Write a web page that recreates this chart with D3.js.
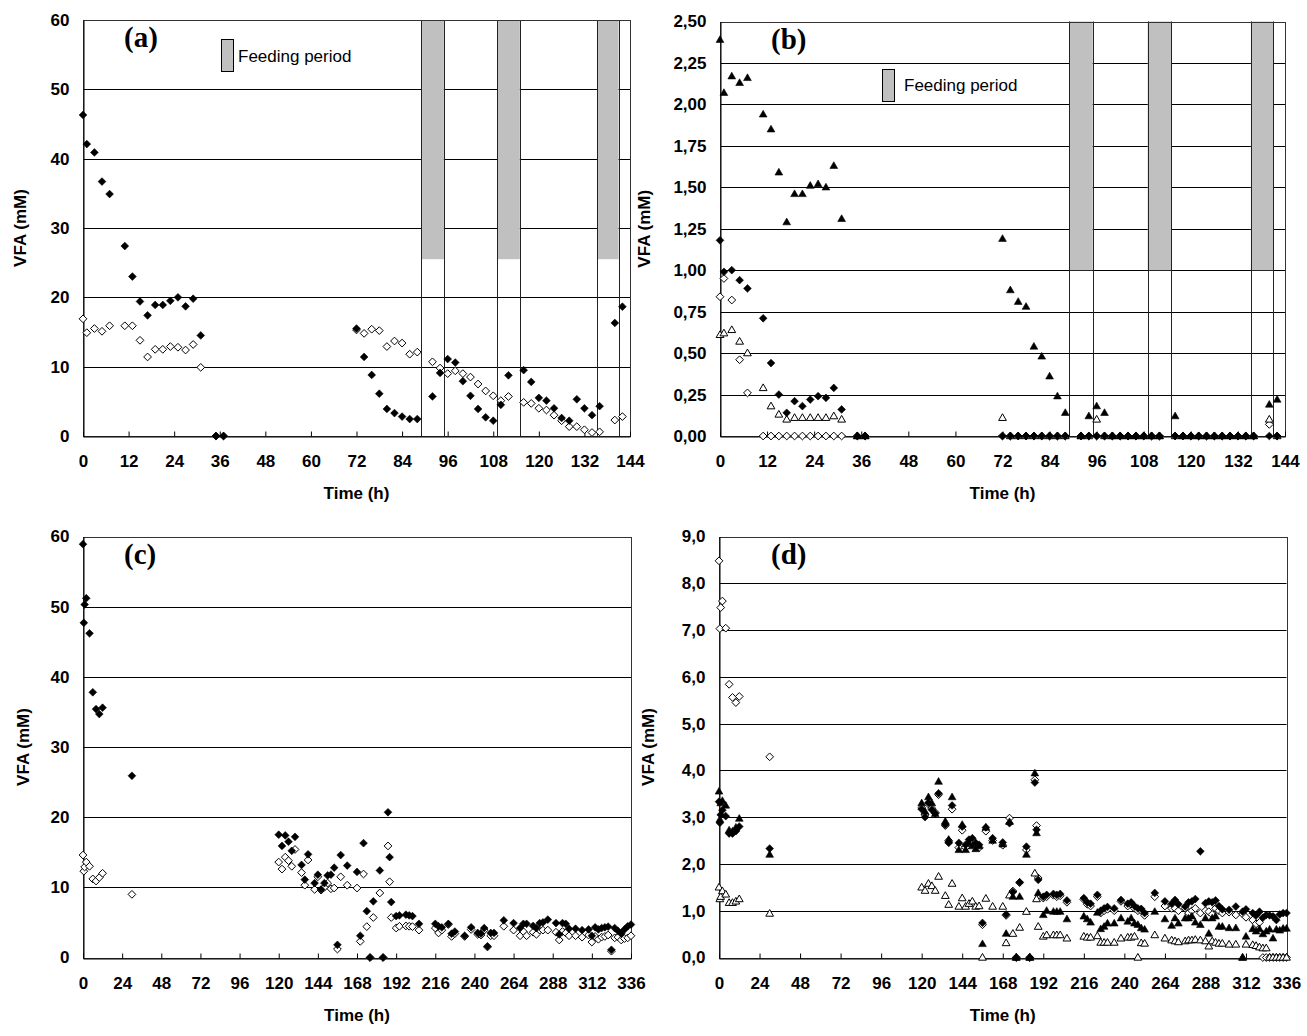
<!DOCTYPE html>
<html>
<head>
<meta charset="utf-8">
<script src="https://cdn.jsdelivr.net/npm/d3@7"></script>
<style>
  body { margin: 0; background: #fff; }
  svg { display: block; }
</style>
</head>
<body>
<svg id="chart" width="1307" height="1036"></svg>
<script>
// ---------- Panel (a): batch phase + feeding, 0-144 h ----------
const aTime = [0,1,3,5,7,11,13,15,17,19,21,23,25,27,29,31,35,37,
  72,74,76,78,80,82,84,86,88,
  92,94,96,98,100,102,104,106,108,110,112,
  116,118,120,122,124,126,128,130,132,134,136,
  140,142];
const aFilled = [46.3,42.1,40.9,36.7,34.9,27.4,23.0,19.4,17.4,18.9,18.9,19.5,20.0,18.7,19.8,14.5,0,0,
  15.5,11.4,8.8,6.1,3.9,3.3,2.8,2.45,2.45,
  5.7,9.1,11.1,10.6,7.9,5.8,3.9,2.7,2.2,4.5,8.75,
  9.5,7.8,5.5,5.1,4.0,2.6,2.2,5.3,4.0,3.0,4.3,
  16.3,18.65];
const aOpen = [16.9,14.9,15.5,15.1,15.9,15.9,15.9,13.8,11.4,12.5,12.5,12.9,12.8,12.4,13.2,9.9,0,0,
  15.3,14.8,15.4,15.2,12.9,13.7,13.4,11.8,12.1,
  10.7,9.8,9.0,9.4,9.0,8.5,7.5,6.5,5.8,5.1,5.7,
  4.85,4.7,4.0,3.75,3.0,2.2,1.35,1.35,0.9,0.5,0.6,
  2.3,2.8];

// ---------- Panel (b): same sampling times as (a) ----------
const bTime = aTime;
const bFilledTri = [2.39,2.07,2.17,2.13,2.16,1.94,1.85,1.59,1.29,1.46,1.46,1.51,1.52,1.50,1.63,1.31,0,0,
  1.19,0.88,0.81,0.78,0.54,0.48,0.36,0.24,0.14,
  0,0.12,0.18,0.14,0,0,0,0,0,0,0,
  0.12,0,0,0,0,0,0,0,0,0,0,
  0.19,0.22];
const bFilledDia = [1.18,0.99,1.00,0.94,0.89,0.71,0.44,0.25,0.14,0.21,0.18,0.22,0.24,0.23,0.29,0.16,0,0,
  0,0,0,0,0,0,0,0,0,
  0,0,0,0,0,0,0,0,0,0,0,
  0,0,0,0,0,0,0,0,0,0,0,
  0,0];
const bOpenDia = [0.84,0.95,0.82,0.46,0.26,0,0,0,0,0,0,0,0,0,0,0,0,0,
  0,0,0,0,0,0,0,0,0,
  0,0,0,0,0,0,0,0,0,0,0,
  0,0,0,0,0,0,0,0,0,0,0,
  0.07,0];
const bOpenTri = [0.61,0.62,0.64,0.57,0.50,0.29,0.18,0.13,0.10,0.11,0.11,0.11,0.11,0.11,0.12,0.10,0,0,
  0.11,0,0,0,0,0,0,0,0,
  0,0,0.10,0,0,0,0,0,0,0,0,
  0,0,0,0,0,0,0,0,0,0,0,
  0.10,0];

// Feeding periods (h) shared by (a) and (b); shaded from the given level to the top
const feedStart = [89, 109, 135.3];
const feedEnd = [95, 115, 141];
const feedLevelA = 25.5;
const feedLevelB = 1.0;

// ---------- Panel (c): continuous run, 0-336 h ----------
const cTime = [0,0.5,1,2,4,6,8,10,12,30,
  120,122,124,126,128,130,134,136,138,142,144,146,148,150,152,154,156,158,162,168,170,172,174,176,178,182,184,187,188,189,
  192,194,198,200,202,206,216,218,220,224,226,228,234,238,242,244,246,248,250,252,
  258,264,268,270,272,276,278,280,282,285,290,292,294,296,298,302,306,310,312,314,
  316,318,320,322,324,326,328,330,332,334,336];
const cFilled = [58.9,47.7,50.3,51.2,46.2,37.8,35.4,34.7,35.6,25.9,
  17.5,15.9,17.4,16.5,15.2,17.2,13.2,11.1,14.7,10.6,11.8,9.7,10.6,11.7,11.8,12.8,1.8,14.6,13.1,12.2,3.1,16.3,6.6,0,8.0,12.4,0,20.7,14.3,7.9,
  5.9,6.0,6.1,6.0,5.9,4.8,4.8,4.45,4.3,4.8,3.4,3.7,3.1,4.3,3.5,3.4,4.2,1.6,3.5,3.5,
  5.3,4.9,4.2,4.8,4.8,4.5,4.2,4.9,5.0,5.4,4.9,3.3,4.9,4.8,4.1,4.1,3.9,4.0,3.1,4.3,
  4.0,4.2,4.3,4.4,1.1,4.2,3.8,3.4,4.0,4.45,4.7];
const cOpen = [14.6,12.3,12.9,13.6,13.0,11.2,10.9,11.4,12.0,9.0,
  13.6,12.6,14.3,13.8,13.0,15.4,12.1,10.3,13.9,9.7,11.5,9.6,10.0,10.6,9.8,9.9,1.2,11.5,10.3,9.9,2.3,11.9,4.4,0,5.7,9.2,0,15.9,10.8,5.7,
  4.2,4.45,4.5,4.45,4.4,3.9,4.2,3.5,3.9,4.7,3.0,3.4,3.0,4.0,3.3,3.2,3.9,1.5,3.1,3.1,
  4.45,3.9,3.1,3.7,3.1,3.6,3.3,3.9,3.9,3.9,3.6,2.5,3.7,3.5,3.1,3.1,2.9,3.2,2.2,3.0,
  2.6,2.9,3.0,3.2,0.9,2.8,2.9,2.5,2.7,2.8,3.1];

// ---------- Panel (d): continuous run, 0-336 h ----------
const dTime = [0,0.5,1,2,4,6,8,10,12,30,
  120,122,124,126,128,130,134,136,138,142,144,146,148,150,152,154,156,158,162,168,170,172,174,176,178,182,184,187,188,189,
  192,194,198,200,202,206,216,218,220,224,226,228,230,234,238,242,244,246,248,250,252,
  258,264,268,270,272,276,278,280,282,285,288,290,292,294,296,298,302,306,310,312,
  316,318,320,322,324,326,328,330,332,334,336];
const dFilledDia = [3.33,2.88,3.05,3.15,3.02,2.65,2.65,2.70,2.80,2.33,
  3.17,3.00,3.31,3.16,3.08,3.51,2.84,2.45,3.25,2.45,2.80,2.41,2.52,2.55,2.45,2.41,0.74,2.78,2.55,2.46,0.92,2.87,1.40,0,1.61,2.37,0,3.74,2.73,1.66,
  1.30,1.34,1.36,1.34,1.36,1.22,1.27,1.18,1.15,1.34,1.00,1.05,1.08,1.05,1.23,1.15,1.18,1.10,1.05,1.04,0.95,
  1.38,1.20,1.15,1.23,1.14,1.09,1.18,1.20,1.25,2.27,1.16,1.20,1.18,1.22,1.10,1.03,1.02,1.09,0.98,1.03,
  0.95,0.90,0.98,0.85,0.91,0.90,0.88,0.80,0.92,0.95,0.95];
const dOpenDia = [8.48,7.03,7.48,7.62,7.04,5.84,5.56,5.45,5.58,4.29,
  3.20,3.05,3.28,3.19,3.10,3.48,2.82,2.50,3.17,2.35,2.72,2.35,2.45,2.50,2.40,2.35,0.70,2.70,2.50,2.40,0.90,2.98,1.42,0,1.60,2.30,0,3.80,2.82,1.70,
  1.27,1.30,1.33,1.30,1.32,1.18,1.24,1.14,1.10,1.30,0.95,1.00,1.03,1.00,1.20,1.10,1.14,1.05,1.00,1.00,0.90,
  1.30,1.10,1.05,1.05,1.00,1.05,0.95,1.00,1.05,0.95,1.00,0.98,0.92,1.05,1.00,0.95,0.97,0.91,0.93,0.86,
  0.80,0.72,0.75,0,0,0,0,0,0,0,0];
const dFilledTri = [3.55,2.95,3.30,3.35,3.25,2.72,2.70,2.78,2.97,2.20,
  3.30,3.12,3.43,3.30,3.07,3.76,2.91,2.52,3.43,2.30,2.84,2.30,2.45,2.38,2.32,2.38,0.29,2.78,2.50,2.42,0.51,2.90,1.30,0,1.30,2.20,0,3.94,2.66,1.38,
  0.91,1.00,0.98,0.98,0.98,0.82,0.88,0.82,0.75,0.96,0.61,0.66,0.73,0.73,0.84,0.77,0.84,0.73,0.70,0.63,0.60,
  0.98,0.82,0.68,0.84,0.73,0.84,0.84,0.88,0.75,0.70,0.84,0.51,0.84,0.88,0.66,0.66,0.63,0.63,0,0.45,
  0.61,0.56,0.61,0.50,0.56,0.60,0.41,0.60,0.58,0.62,0.62];
const dOpenTri = [1.50,1.25,1.30,1.42,1.35,1.17,1.17,1.20,1.25,0.94,
  1.50,1.43,1.58,1.53,1.43,1.73,1.32,1.13,1.58,1.09,1.27,1.09,1.15,1.20,1.09,1.10,0,1.26,1.09,1.09,0.31,1.33,0.51,0,0.64,0.98,0,1.80,1.25,0.66,
  0.45,0.48,0.48,0.48,0.48,0.41,0.45,0.43,0.43,0.46,0.32,0.32,0.32,0.32,0.41,0.43,0.43,0.45,0,0.31,0.30,
  0.48,0.41,0.37,0.35,0.33,0.35,0.37,0.37,0.38,0.37,0.35,0.24,0.35,0.32,0.30,0.30,0.28,0.28,0,0.28,
  0.27,0.25,0.22,0.20,0.20,0,0,0,0,0,0];

// ---------- Axis ticks ----------
const xTicks144 = [0,12,24,36,48,60,72,84,96,108,120,132,144];
const xTicks336 = [0,24,48,72,96,120,144,168,192,216,240,264,288,312,336];
const aYTicks = [0,10,20,30,40,50,60];
const bYTicks = [0,0.25,0.5,0.75,1,1.25,1.5,1.75,2,2.25,2.5];
const cYTicks = [0,10,20,30,40,50,60];
const dYTicks = [0,1,2,3,4,5,6,7,8,9];

const yLabelText = "VFA (mM)";
const xLabelText = "Time (h)";
const legendText = "Feeding period";

// Decimal comma, as used on the (b) and (d) value axes
const locale = d3.formatLocale({decimal: ",", thousands: ".", grouping: [3], currency: ["", " €"]});

// Marker shapes: square diamond and equilateral triangle
const diamondShape = {
  draw(ctx, size) {
    const r = Math.sqrt(size) / 2;
    ctx.moveTo(0, -r); ctx.lineTo(r, 0); ctx.lineTo(0, r); ctx.lineTo(-r, 0); ctx.closePath();
  }
};
const triangleShape = {
  draw(ctx, size) {
    const s = Math.sqrt(size), h = s * 0.866;
    ctx.moveTo(0, -h * 0.6); ctx.lineTo(s / 2, h * 0.4); ctx.lineTo(-s / 2, h * 0.4); ctx.closePath();
  }
};

const panels = [
  {
    box: {x0: 83, y0: 20, x1: 630, y1: 436},
    xDomain: [0, 144], xTicks: xTicks144,
    yDomain: [0, 60], yTicks: aYTicks, yFormat: d3.format("d"),
    tag: "(a)", tagX: 124, yLabelX: 22,
    feed: feedLevelA, legend: {x: 221.5, y: 39.5, tx: 238, ty: 58},
    series: [
      {t: aTime, v: aOpen, shape: diamondShape, filled: false},
      {t: aTime, v: aFilled, shape: diamondShape, filled: true}
    ]
  },
  {
    box: {x0: 720, y0: 21.5, x1: 1285, y1: 436},
    xDomain: [0, 144], xTicks: xTicks144,
    yDomain: [0, 2.5], yTicks: bYTicks, yFormat: locale.format(".2f"),
    tag: "(b)", tagX: 771, yLabelX: 646,
    feed: feedLevelB, legend: {x: 882.5, y: 69.5, tx: 904, ty: 87},
    series: [
      {t: bTime, v: bOpenDia, shape: diamondShape, filled: false},
      {t: bTime, v: bOpenTri, shape: triangleShape, filled: false},
      {t: bTime, v: bFilledDia, shape: diamondShape, filled: true},
      {t: bTime, v: bFilledTri, shape: triangleShape, filled: true}
    ]
  },
  {
    box: {x0: 83, y0: 536.5, x1: 631, y1: 957.5},
    xDomain: [0, 336], xTicks: xTicks336,
    yDomain: [0, 60], yTicks: cYTicks, yFormat: d3.format("d"),
    tag: "(c)", tagX: 124, yLabelX: 25,
    series: [
      {t: cTime, v: cOpen, shape: diamondShape, filled: false},
      {t: cTime, v: cFilled, shape: diamondShape, filled: true}
    ]
  },
  {
    box: {x0: 719, y0: 536.5, x1: 1286.5, y1: 957.5},
    xDomain: [0, 336], xTicks: xTicks336,
    yDomain: [0, 9], yTicks: dYTicks, yFormat: locale.format(".1f"),
    tag: "(d)", tagX: 771, yLabelX: 650,
    series: [
      {t: dTime, v: dOpenDia, shape: diamondShape, filled: false},
      {t: dTime, v: dOpenTri, shape: triangleShape, filled: false},
      {t: dTime, v: dFilledDia, shape: diamondShape, filled: true},
      {t: dTime, v: dFilledTri, shape: triangleShape, filled: true}
    ]
  }
];

const svg = d3.select("#chart");
const sansBold = "'Liberation Sans', Arial, sans-serif";

panels.forEach(p => {
  const b = p.box;
  const x = d3.scaleLinear().domain(p.xDomain).range([b.x0, b.x1]);
  const y = d3.scaleLinear().domain(p.yDomain).range([b.y1, b.y0]);
  const g = svg.append("g");

  // horizontal gridlines
  g.append("g").selectAll("line")
    .data(p.yTicks.slice(1, -1))
    .join("line")
    .attr("x1", b.x0).attr("x2", b.x1)
    .attr("y1", d => Math.round(y(d)) + 0.5).attr("y2", d => Math.round(y(d)) + 0.5)
    .attr("stroke", "#000").attr("stroke-width", 1);

  // feeding periods: grey band above the level, edge lines full height
  if (p.feed !== undefined) {
    const periods = feedStart.map((s, i) => ({s, e: feedEnd[i]}));
    g.append("g").selectAll("rect")
      .data(periods)
      .join("rect")
      .attr("x", d => x(d.s)).attr("width", d => x(d.e) - x(d.s))
      .attr("y", y(p.yDomain[1])).attr("height", y(p.feed) - y(p.yDomain[1]))
      .attr("fill", "#c0c0c0");
    const edges = periods.flatMap(d => [d.s, d.e]);
    g.append("g").selectAll("line")
      .data(edges)
      .join("line")
      .attr("x1", d => Math.round(x(d)) + 0.5).attr("x2", d => Math.round(x(d)) + 0.5)
      .attr("y1", b.y0).attr("y2", b.y1)
      .attr("stroke", "#222").attr("stroke-width", 1);

    // legend swatch
    g.append("rect")
      .attr("x", p.legend.x).attr("y", p.legend.y)
      .attr("width", 12).attr("height", 32)
      .attr("fill", "#c0c0c0").attr("stroke", "#000").attr("stroke-width", 1);
    g.append("text")
      .attr("x", p.legend.tx).attr("y", p.legend.ty)
      .attr("dominant-baseline", "middle")
      .attr("font-family", sansBold).attr("font-size", 17)
      .text(legendText);
  }

  // plot frame
  g.append("rect")
    .attr("x", Math.round(b.x0) + 0.5).attr("y", Math.round(b.y0) + 0.5)
    .attr("width", Math.round(b.x1) - Math.round(b.x0))
    .attr("height", Math.round(b.y1) - Math.round(b.y0))
    .attr("fill", "none").attr("stroke", "#333").attr("stroke-width", 1);

  // x axis with inward ticks
  const xAxis = d3.axisBottom(x).tickValues(p.xTicks).tickFormat(d3.format("d"))
    .tickSizeInner(-5).tickSizeOuter(0).tickPadding(18);
  const xg = g.append("g").attr("transform", `translate(0,${Math.round(b.y1) + 0.5})`).call(xAxis);
  xg.select(".domain").attr("stroke", "#000");
  xg.selectAll("text").attr("font-family", sansBold).attr("font-weight", "bold")
    .attr("font-size", 17).attr("fill", "#000");

  // y axis labels
  const yAxis = d3.axisLeft(y).tickValues(p.yTicks).tickFormat(p.yFormat)
    .tickSize(0).tickPadding(14);
  const yg = g.append("g").attr("transform", `translate(${Math.round(b.x0) + 0.5},0)`).call(yAxis);
  yg.select(".domain").attr("stroke", "#000");
  yg.selectAll("text").attr("font-family", sansBold).attr("font-weight", "bold")
    .attr("font-size", 17).attr("fill", "#000");

  // data markers
  p.series.forEach(s => {
    const pts = s.t.map((t, i) => ({t, v: s.v[i]}));
    g.append("g").selectAll("path")
      .data(pts)
      .join("path")
      .attr("transform", d => `translate(${x(d.t)},${y(d.v)})`)
      .attr("d", d3.symbol().type(s.shape).size(s.shape === diamondShape ? 60 : 60))
      .attr("fill", s.filled ? "#000" : "#fff")
      .attr("stroke", "#000")
      .attr("stroke-width", s.filled ? 0.6 : 1);
  });

  // panel tag
  g.append("text")
    .attr("x", p.tagX).attr("y", b.y0 + 27)
    .attr("font-family", "'Liberation Serif', 'Times New Roman', serif")
    .attr("font-weight", "bold").attr("font-size", 29)
    .text(p.tag);

  // axis titles
  g.append("text")
    .attr("transform", `translate(${p.yLabelX},${(b.y0 + b.y1) / 2}) rotate(-90)`)
    .attr("text-anchor", "middle").attr("dominant-baseline", "middle")
    .attr("font-family", sansBold).attr("font-weight", "bold").attr("font-size", 17)
    .text(yLabelText);
  g.append("text")
    .attr("x", (b.x0 + b.x1) / 2).attr("y", b.y1 + 59)
    .attr("text-anchor", "middle").attr("dominant-baseline", "middle")
    .attr("font-family", sansBold).attr("font-weight", "bold").attr("font-size", 17)
    .text(xLabelText);
});
</script>
</body>
</html>
